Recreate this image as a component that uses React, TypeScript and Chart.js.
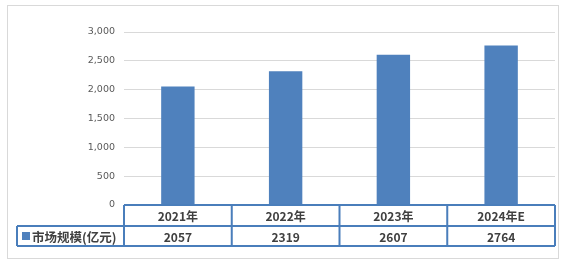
import React, { useEffect, useRef } from "react";
import { Chart, registerables } from "chart.js";

Chart.register(...registerables);

const categories = ["2021年", "2022年", "2023年", "2024年E"];
const values = [2057, 2319, 2607, 2764];
const seriesName = "市场规模(亿元)";
const yTicks = [0, 500, 1000, 1500, 2000, 2500, 3000];

const BAR = "#4F81BD";
const LINE = "#4A7EBB";
const TEXT = "#404040";

const tablePlugin = {
  id: "dataTable",
  afterDraw(chart: any) {
    const ctx = chart.ctx as CanvasRenderingContext2D;
    const area = chart.chartArea;
    const xs = chart.scales.x;
    const n = categories.length;
    const colW = (area.right - area.left) / n;
    const top = area.bottom;
    const mid = top + 21;
    const bot = mid + 20;
    const legendLeft = 17;
    ctx.save();
    // outer border
    ctx.strokeStyle = "#d9d9d9";
    ctx.lineWidth = 1;
    ctx.strokeRect(7.5, 5.5, 551, 253);

    ctx.strokeStyle = LINE;
    ctx.lineWidth = 2;
    ctx.beginPath();
    // top row line
    ctx.moveTo(area.left, top);
    ctx.lineTo(area.right, top);
    // mid line
    ctx.moveTo(legendLeft, mid);
    ctx.lineTo(area.right, mid);
    // bottom line
    ctx.moveTo(legendLeft, bot);
    ctx.lineTo(area.right, bot);
    // legend left
    ctx.moveTo(legendLeft, mid);
    ctx.lineTo(legendLeft, bot);
    // column separators
    for (let i = 0; i <= n; i++) {
      const x = area.left + i * colW;
      ctx.moveTo(x, top);
      ctx.lineTo(x, bot);
    }
    ctx.stroke();

    ctx.fillStyle = TEXT;
    ctx.textAlign = "center";
    ctx.textBaseline = "middle";
    ctx.font = "bold 12px 'Noto Sans CJK SC', 'Liberation Sans', sans-serif";
    for (let i = 0; i < n; i++) {
      const cx = xs.getPixelForValue(i);
      ctx.fillText(categories[i], cx, (top + mid) / 2 + 1);
      ctx.fillText(String(values[i]), cx, (mid + bot) / 2 + 1);
    }
    // legend cell
    ctx.fillStyle = BAR;
    ctx.fillRect(22, (mid + bot) / 2 - 4, 8, 8);
    ctx.fillStyle = TEXT;
    ctx.textAlign = "left";
    ctx.font = "bold 12.5px 'Noto Sans CJK SC', sans-serif";
    ctx.fillText(seriesName, 32, (mid + bot) / 2 + 1);
    ctx.restore();
  },
};

export default function App() {
  const ref = useRef<HTMLCanvasElement>(null);
  useEffect(() => {
    if (!ref.current) return;
    const chart = new Chart(ref.current, {
      type: "bar",
      data: {
        labels: categories,
        datasets: [
          {
            label: seriesName,
            data: values,
            backgroundColor: BAR,
            borderWidth: 0,
            categoryPercentage: 1,
            barPercentage: 0.31,
          },
        ],
      },
      options: {
        responsive: false,
        animation: false,
        layout: { padding: { top: 32, bottom: 60, right: 10, left: 0 } },
        plugins: { legend: { display: false }, tooltip: { enabled: false } },
        scales: {
          x: { display: false },
          y: {
            min: 0,
            max: 3000,
            afterBuildTicks: (s: any) => {
              s.ticks = yTicks.map((v) => ({ value: v }));
            },
            afterFit: (s: any) => {
              s.width = 124;
            },
            border: { display: false },
            grid: {
              color: (c: any) => (c.tick && c.tick.value === 0 ? "rgba(0,0,0,0)" : "#d9d9d9"),
              drawTicks: false,
            },
            ticks: {
              padding: 9,
              color: "#595959",
              font: { family: "'DejaVu Sans', sans-serif", size: 9.5 },
              callback: (v: any) => Number(v).toLocaleString("en-US"),
            },
          },
        },
      },
      plugins: [tablePlugin],
    });
    return () => chart.destroy();
  }, []);
  return (
    <div style={{ position: "fixed", left: 0, top: 0, width: 565, height: 265, background: "#fff" }}>
      <canvas ref={ref} width={565} height={265} style={{ width: 565, height: 265, display: "block" }} />
    </div>
  );
}
